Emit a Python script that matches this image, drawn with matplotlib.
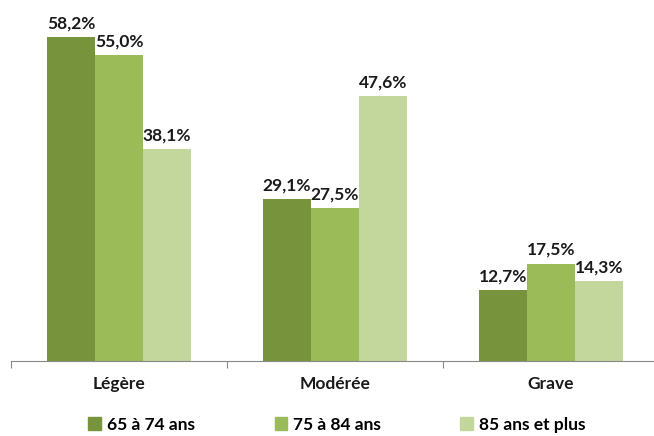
import matplotlib
matplotlib.use("Agg")

import numpy as np
import matplotlib.pyplot as plt
from matplotlib.patches import Patch

plt.rcParams['font.family'] = ['Lato', 'DejaVu Sans']

categories = ["Légère", "Modérée", "Grave"]
series_names = ["65 à 74 ans", "75 à 84 ans", "85 ans et plus"]
v65 = [58.2, 29.1, 12.7]
v75 = [55.0, 27.5, 17.5]
v85 = [38.1, 47.6, 14.3]
colors = ["#77933C", "#9BBB59", "#C3D69B"]

fig = plt.figure(figsize=(6.54, 4.36), dpi=100)
ax = fig.add_axes([11/654, 75/436, 648/654, 361/436])

x = np.arange(len(categories))
w = 0.222
for i, (vals, c, name) in enumerate(zip([v65, v75, v85], colors, series_names)):
    bars = ax.bar(x + (i - 1) * w, vals, w, color=c, label=name)
    for b, v in zip(bars, vals):
        ax.annotate(("%.1f%%" % v).replace(".", ","),
                    (b.get_x() + b.get_width() / 2, b.get_height()),
                    xytext=(0, 4), textcoords="offset points",
                    ha="center", va="bottom", fontsize=12.5, fontweight="bold", color="#1a1a1a")

ax.set_xlim(-0.5, 2.5)
ax.set_ylim(0, 64.8)
for s in ["top", "right", "left"]:
    ax.spines[s].set_visible(False)
ax.spines["bottom"].set_color("#888888")
ax.set_yticks([])
ax.set_xticks([-0.5, 0.5, 1.5, 2.5])
ax.set_xticklabels([])
ax.tick_params(axis="x", length=5, color="#888888")
ax.set_xticks(x, minor=True)
ax.set_xticklabels(categories, minor=True, fontsize=12.5, fontweight="bold", color="#1a1a1a")
ax.tick_params(axis="x", which="minor", length=0, pad=11)

handles = [Patch(color=c) for c in colors]
fig.legend(handles, series_names, loc="lower center", bbox_to_anchor=(0.515, -0.028), ncol=3,
           frameon=False, handlelength=0.7, handleheight=0.7, handletextpad=0.35,
           columnspacing=4.6, prop={"size": 12.5, "weight": "bold"})

plt.savefig("out.png", dpi=100)
